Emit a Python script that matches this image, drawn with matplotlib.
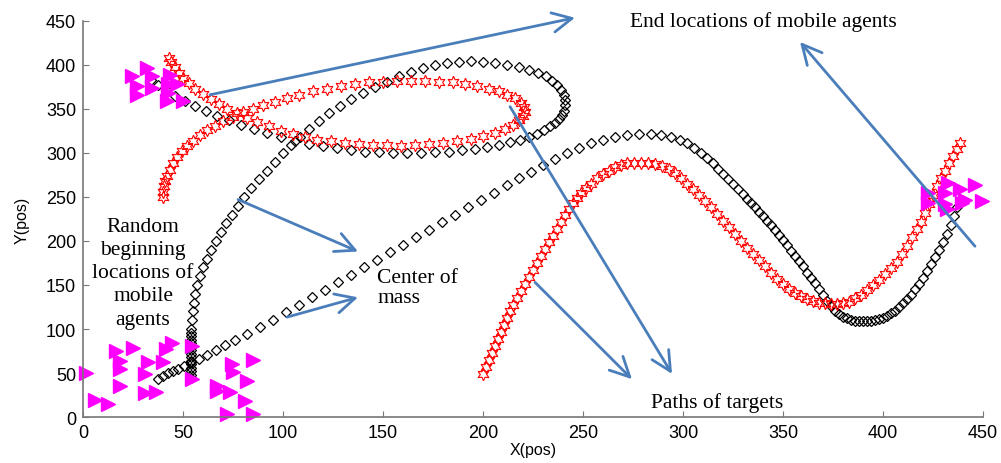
import numpy as np
import matplotlib.pyplot as plt

# target path 1 (loop, top-left)
t1_x = [40, 40, 40.5, 41, 42, 43.5, 45, 47, 49.5, 52, 55, 58.5, 62, 66, 70, 75, 80, 85, 90, 96,
        102, 108, 115, 122, 129, 136, 143, 150, 157, 164, 171, 178, 185, 191, 197, 203, 208, 212,
        216, 219, 220.5, 221, 220, 218, 215, 211, 206, 200, 194, 187, 180, 173, 166, 159, 152, 145,
        138, 131, 124, 117, 111, 105, 99, 93, 87, 82, 77, 72, 68, 64, 60, 56, 53, 50, 48, 46, 44, 43]
t1_y = [250, 256, 262, 268, 274, 281, 288, 295, 302, 308, 314, 320, 326, 331, 336, 341, 346, 350,
        354, 358, 362, 366, 370, 373, 376, 378, 380, 381, 382, 382, 382, 381, 380, 378, 376, 373,
        370, 366, 362, 357, 352, 347, 342, 337, 332, 327, 323, 319, 316, 313, 311, 310, 309, 308,
        308.5, 309, 310, 311, 313, 315, 318, 321, 325, 330, 335, 340, 345, 350, 355, 361, 367, 373,
        379, 385, 391, 397, 403, 408]

# target path 2 (S curve, right)
t2_x = [200, 201.5, 203, 204.5, 206, 207.5, 209, 210.5, 212, 213.5, 215, 217, 219, 221, 223, 225,
        227, 229, 231, 233, 235, 237, 239, 241, 243, 245, 247, 249, 251.5, 254, 257, 260, 263, 266,
        269, 272, 275.5, 279, 282.5, 286, 289.5, 293, 296, 299, 302, 305, 308, 311, 314, 317, 320,
        323, 326, 329, 332, 335, 338, 341, 344, 347, 350, 353, 356, 359, 362, 365, 368, 371, 374,
        377, 380, 383, 386, 389, 392, 395, 398, 401, 404, 407, 409.5, 412, 414.5, 417, 419, 421,
        423, 425, 427, 429, 431, 433, 435, 437, 438.5]
t2_y = [49, 57, 65, 73, 81, 89, 97, 105, 113, 120, 127, 135, 143, 151, 159, 167, 175, 183, 191,
        199, 206, 214, 222, 229, 236, 243, 249, 255, 260, 265, 271, 276, 280, 283.5, 286, 288, 289,
        289, 288.5, 287, 285, 281.5, 277, 271, 265, 259, 252, 245, 238, 231, 223, 216, 208, 200,
        192, 185, 178, 171, 164, 157, 151, 146, 141, 137, 134, 132, 130, 129, 128, 128, 129, 131,
        135, 139, 144, 150, 156, 162, 169, 176, 185, 194, 204, 214, 222, 232, 242, 252, 262, 272,
        280, 288, 296, 304, 311]

# center of mass 1 (bottom-left column -> loop -> top-left)
c1_x = [54, 54, 54, 54, 54, 54, 54, 54, 54, 54, 54, 54, 54, 54, 54, 54.5, 55, 55.5, 56, 57, 58.5,
        60, 62, 64, 66.5, 69, 71.5, 74.5, 77.5, 80.5, 84, 88, 92, 96, 100, 104, 108.5, 113, 118,
        123, 128.5, 134, 140, 146, 152, 158, 164, 170, 176, 182, 188, 194, 200, 206, 212, 218, 223,
        227.5, 231.5, 234.5, 237, 239, 240.5, 241, 241, 240.5, 239.5, 238, 236, 233.5, 230.5, 227,
        223, 218.5, 213.5, 208, 202, 196, 189.5, 183, 176, 169, 162, 155, 148, 141, 134, 127, 120,
        113, 106, 99, 92, 85.5, 79, 73, 67, 61.5, 56, 51, 46, 41.5, 37.5, 34]
c1_y = [44, 48, 52, 56, 60, 64, 68, 72, 76, 80, 84, 88, 92, 96, 100, 110, 120, 130, 140, 150, 160,
        170, 180, 190, 200, 210, 220, 230, 240, 250, 260, 270, 280, 290, 300, 309, 318, 327, 336,
        345, 353, 361, 368, 375, 381, 387, 392, 396, 399.5, 402, 403.5, 404, 403.5, 402, 400, 397.5,
        394.5, 391, 387, 382, 377, 371.5, 366, 360, 354, 348, 343, 338.5, 334, 330, 326, 322, 318.5,
        315, 312, 309, 306.5, 304.5, 303, 301.5, 300.5, 300, 300, 300, 300.5, 301.5, 303, 305,
        307.5, 310.5, 314, 318, 322.5, 327, 332, 337, 342, 347.5, 353, 359, 365, 371, 377, 383]

# center of mass 2 (bottom-left diagonal -> S curve -> right)
c2_x = [37.5, 40, 42.5, 45, 47.5, 50.5, 54, 58, 62, 66.5, 71, 76, 82, 88.5, 95, 101.5, 108, 114.5,
        121, 127.5, 134, 140.5, 147, 153.5, 160, 166.5, 173, 179.5, 186, 192.5, 199, 205.5, 212,
        218, 224, 230, 236, 242, 248, 254, 260, 266, 272, 278, 284, 289, 294, 298.5, 302, 305.5,
        309, 312, 315, 317.5, 320, 322.5, 325, 327.5, 330, 332, 334, 336, 338, 340, 342, 344, 346,
        348, 350, 352, 354, 356, 358, 360, 362, 364, 366, 368, 370, 372, 374, 376, 378, 380, 382,
        384, 386, 388, 390, 392, 394, 396, 398, 400, 402, 404, 406, 408, 410, 412, 414, 416, 418,
        420, 422, 424, 426, 428, 430, 432, 434, 435.5, 437]
c2_y = [43, 46.5, 50, 52.5, 55, 58, 62, 66.5, 71, 76, 81.5, 87.5, 94.5, 102, 110.5, 119, 127.5,
        136, 144.5, 153, 161.5, 170, 178.5, 187, 195.5, 204, 212.5, 221, 229.5, 238, 246.5, 255,
        263.5, 271, 278.5, 286, 293, 299.5, 306, 311, 315, 318, 320, 321, 321, 320, 318, 315, 311,
        306, 300, 294, 288, 282, 276, 270, 265, 259, 253, 248, 243, 238, 233, 228, 223, 218, 212.5,
        207, 201, 195, 189, 183, 177, 171, 164, 158, 152, 145, 139, 132, 126, 121, 117, 114, 112,
        110.5, 109.5, 109, 109, 109, 109.5, 110, 111.5, 113, 115, 118, 121, 125, 129, 134, 139,
        145, 151, 158, 166, 174, 182, 190, 199, 208, 218, 228, 239]

# agent positions
start_x = [16.7, 25, 18.3, 18.3, 32.5, 40, 1.7, 30.8, 18.3, 30.8, 36.7, 5.8, 12.5, 41.7, 44.5,
           54.3, 54.3, 74.3, 75.2, 85.2, 66.8, 66.8, 73.5, 81.8, 81, 71.8, 85.2]
start_y = [75, 78, 64, 54.5, 63, 62, 50.5, 49, 35, 27, 28.5, 19.5, 15, 77, 84.5,
           81, 43, 60, 51, 65, 35.5, 30, 28, 41, 18.5, 3.5, 3.5]
end1_x = [24.3, 31.8, 26.8, 26.8, 34.3, 34.3, 43.5, 42.7, 42.7, 46.8, 50, 41.8]
end1_y = [387, 396.5, 376, 366, 387, 374, 389, 378, 368, 378, 359, 359]
end2_x = [432.7, 446, 438.5, 422.7, 431, 441, 449.3, 422.7, 431, 431.8, 439.3]
end2_y = [266, 264, 258.5, 255, 255, 247, 245, 243.5, 241.5, 236, 243.5]

fig = plt.figure(figsize=(10.01, 4.64), dpi=100)
ax = fig.add_axes([0.083, 0.099, 0.899, 0.854])

ax.plot(c1_x, c1_y, 'D', ms=5.5, mfc='none', mec='k', mew=0.9, clip_on=False)
ax.plot(c2_x, c2_y, 'D', ms=5.5, mfc='none', mec='k', mew=0.9, clip_on=False)
ax.plot(t1_x, t1_y, marker=(6, 1, 0), ls='none', ms=9, mfc='none', mec='red', mew=0.8)
ax.plot(t2_x, t2_y, marker=(6, 1, 0), ls='none', ms=9, mfc='none', mec='red', mew=0.8)
for ax_, ay_ in [(start_x, start_y), (end1_x, end1_y), (end2_x, end2_y)]:
    ax.plot(ax_, ay_, '>', ms=9.5, color='magenta', mec='magenta', clip_on=False)

# arrows (start -> head), data coords
arrows = [((63.5, 366), (246, 453.5)),
          ((446, 194), (358.5, 426)),
          ((77.5, 247), (137.5, 188)),
          ((102, 113.5), (137.5, 136)),
          ((213.5, 352.5), (294.5, 49)),
          ((226, 153), (274.5, 43))]
blue = '#4a7ebb'
for s, e in arrows:
    ax.annotate('', xy=e, xytext=s, annotation_clip=False,
                arrowprops=dict(arrowstyle='->,head_length=0.7,head_width=0.35',
                                color=blue, lw=2, mutation_scale=20, shrinkA=0, shrinkB=0))

serif = 'Liberation Serif'
ax.text(340, 450, 'End locations of mobile agents', family=serif, fontsize=15.5,
        ha='center', va='center', clip_on=False)
ax.text(30, 164, 'Random\nbeginning\nlocations of\nmobile\nagents', family=serif, fontsize=15.5,
        ha='center', va='center', multialignment='center', linespacing=1.3)
ax.text(147, 147, 'Center of\nmass', family=serif, fontsize=15.5, ha='left', va='center',
        linespacing=1.1)
ax.text(317, 17, 'Paths of targets', family=serif, fontsize=15.5, ha='center', va='center')

ax.set_xlim(0, 450)
ax.set_ylim(0, 450)
ax.set_xticks(np.arange(0, 451, 50))
ax.set_yticks(np.arange(0, 451, 50))
for sp in ['top', 'right']:
    ax.spines[sp].set_visible(False)
for sp in ['left', 'bottom']:
    ax.spines[sp].set_color('#777777')
    ax.spines[sp].set_linewidth(1.2)
ax.tick_params(direction='in', length=4, color='#777777', labelsize=13, pad=5)
for lab in ax.get_xticklabels() + ax.get_yticklabels():
    lab.set_family('Liberation Sans')
ax.set_xlabel('X(pos)', family='Liberation Sans', fontsize=11.5, labelpad=1)
ax.set_ylabel('Y(pos)', family='Liberation Sans', fontsize=11.5, labelpad=12)

fig.savefig('out.png', dpi=100)
